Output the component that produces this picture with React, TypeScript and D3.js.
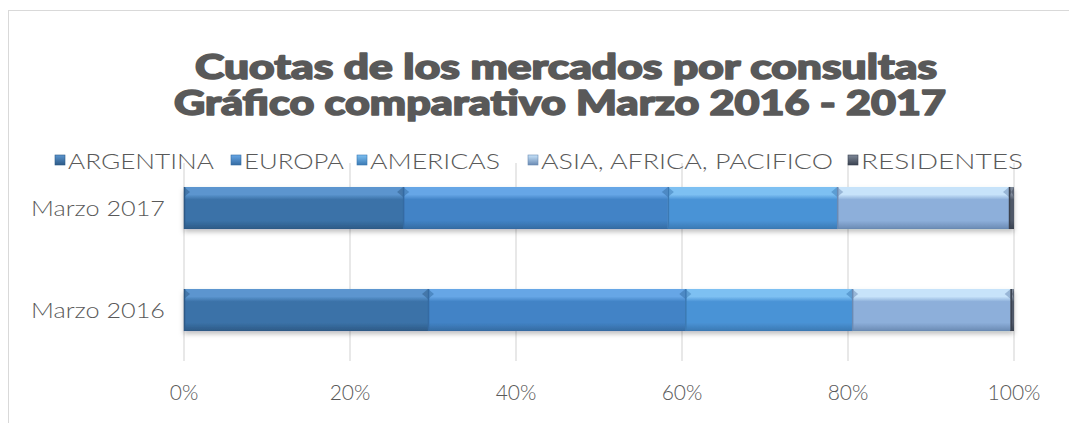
import React from "react";
import * as d3 from "d3";

const categories = ["Marzo 2017", "Marzo 2016"];
const seriesNames = ["ARGENTINA", "EUROPA", "AMERICAS", "ASIA, AFRICA, PACIFICO", "RESIDENTES"];
const marzo2017 = [26.4, 31.9, 20.4, 20.7, 0.6];
const marzo2016 = [29.4, 31.0, 20.1, 19.1, 0.4];
const xTicks = [0, 20, 40, 60, 80, 100];
const titleLines = ["Cuotas de los mercados por consultas", "Gráfico comparativo Marzo 2016 - 2017"];

const colors = ["#3B72A8", "#4283C6", "#4A93D6", "#8DAFDA", "#4F5968"];
const lightColors = ["#5B95CF", "#66A6E6", "#7DC0F2", "#C7E3FA", "#7E8898"];
const darkColors = ["#2D5A86", "#346BA2", "#3B79B3", "#6A8AB3", "#3A4250"];
const legendX = [55, 231, 357, 528, 848];
const legendW = [146, 100, 130, 292, 162];
const titleW = [742, 772];
const titleX = [566, 560];

export default function App() {
  const W = 1069, H = 423;
  const x = d3.scaleLinear().domain([0, 100]).range([184, 1014]);
  const y = d3.scaleBand().domain(categories).range([157, 361]).paddingInner(0.588).paddingOuter(0.294);
  const data: Record<string, number[]> = { "Marzo 2017": marzo2017, "Marzo 2016": marzo2016 };
  const stackedRows = categories.map((c) => {
    const vals = data[c];
    let acc = 0;
    return vals.map((v, i) => {
      const s = { cat: c, i, x0: acc, x1: acc + v };
      acc += v;
      return s;
    });
  });
  const bw = y.bandwidth();
  const font = "'Lato', 'Noto Sans', sans-serif";
  return (
    <svg width={W} height={H} style={{ position: "absolute", left: 0, top: 0 }}>
      <defs>
        {colors.map((c, i) => (
          <linearGradient key={i} id={`g${i}`} x1="0" y1="0" x2="0" y2="1">
            <stop offset="0" stopColor={lightColors[i]} />
            <stop offset="0.18" stopColor={lightColors[i]} />
            <stop offset="0.3" stopColor={colors[i]} />
            <stop offset="0.8" stopColor={colors[i]} />
            <stop offset="1" stopColor={darkColors[i]} />
          </linearGradient>
        ))}
        {colors.map((c, i) => (
          <linearGradient key={"l" + i} id={`lg${i}`} x1="0" y1="0" x2="0" y2="1">
            <stop offset="0" stopColor={lightColors[i]} />
            <stop offset="1" stopColor={darkColors[i]} />
          </linearGradient>
        ))}
        <filter id="sh" x="-5%" y="-20%" width="110%" height="160%">
          <feDropShadow dx="0" dy="3" stdDeviation="2.5" floodColor="#000" floodOpacity="0.25" />
        </filter>
      </defs>
      <rect x={0} y={0} width={W} height={H} fill="#fff" />
      <line x1={8.5} y1={10} x2={8.5} y2={H} stroke="#D9D9D9" />
      <line x1={8} y1={10.5} x2={W} y2={10.5} stroke="#D9D9D9" />
      <text textAnchor="middle" fontFamily={font} fontWeight={900} fontSize={34}
        fill="#595959" stroke="#595959" strokeWidth={1.6} strokeLinejoin="round">
        {titleLines.map((t, i) => (
          <tspan key={i} x={titleX[i]} y={79 + i * 36} textLength={titleW[i]} lengthAdjust="spacingAndGlyphs">
            {t}
          </tspan>
        ))}
      </text>
      {xTicks.map((t) => (
        <line key={t} x1={x(t)} x2={x(t)} y1={163} y2={361} stroke="#D9D9D9" strokeWidth={1.2} />
      ))}
      {seriesNames.map((n, i) => (
        <g key={n}>
          <rect x={legendX[i]} y={155} width={10} height={10} fill={`url(#lg${i})`} stroke={darkColors[i]} strokeWidth={0.6} />
          <text x={legendX[i] + 13} y={169} fontFamily={font} fontWeight={300} fontSize={21} fill="#595959" textLength={legendW[i]} lengthAdjust="spacingAndGlyphs">
            {n}
          </text>
        </g>
      ))}
      {stackedRows.map((row, r) => (
        <g key={r} filter="url(#sh)">
          {row.map((s) => {
            const x0 = x(s.x0), x1 = x(s.x1), yy = y(s.cat)!;
            const b = Math.min(6, (x1 - x0) / 2);
            return (
              <g key={s.i}>
                <rect x={x0} y={yy} width={x1 - x0} height={bw} fill={`url(#g${s.i})`} />
                <path d={`M${x0},${yy} L${x0 + b},${yy + 5} L${x0},${yy + 10} Z`} fill={darkColors[s.i]} opacity={0.5} />
                <path d={`M${x1},${yy} L${x1 - b},${yy + 5} L${x1},${yy + 10} Z`} fill={darkColors[s.i]} opacity={0.5} />
                <line x1={x0 + 0.5} x2={x0 + 0.5} y1={yy} y2={yy + bw} stroke={darkColors[s.i]} strokeWidth={1.5} />
                <line x1={x0} x2={x1} y1={yy + bw - 0.5} y2={yy + bw - 0.5} stroke={darkColors[s.i]} strokeWidth={1} />
              </g>
            );
          })}
        </g>
      ))}
      {categories.map((c) => (
        <text key={c} x={165} y={y(c)! + bw / 2 + 8} textAnchor="end" fontFamily={font} fontWeight={300} fontSize={22} fill="#595959" textLength={134} lengthAdjust="spacingAndGlyphs">
          {c}
        </text>
      ))}
      {xTicks.map((t) => (
        <text key={t} x={x(t)} y={400} textAnchor="middle" fontFamily={font} fontWeight={300} fontSize={21} fill="#595959">
          {t}%
        </text>
      ))}
    </svg>
  );
}
